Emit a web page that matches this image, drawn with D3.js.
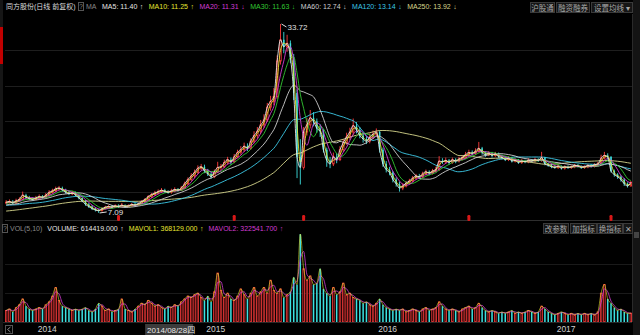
<!DOCTYPE html>
<html><head><meta charset="utf-8">
<script src="https://cdn.jsdelivr.net/npm/d3@7/dist/d3.min.js"></script>
<style>html,body{margin:0;padding:0;background:#000;overflow:hidden}svg{display:block}</style>
</head><body><svg id="c" width="640" height="335"></svg>
<script>
// ---- data (weekly candles) ----
const opens=[8.5,8.6,8.7,8.5,8.8,9.0,9.6,9.3,9.1,9.0,9.2,9.4,9.3,9.6,10.0,10.2,10.5,10.6,10.3,10.0,
9.8,9.9,9.6,9.2,8.8,8.3,8.0,7.7,7.5,7.4,7.7,7.9,8.0,7.9,8.1,8.0,8.2,8.0,8.1,8.3,
8.2,8.4,8.7,9.0,9.4,9.7,9.9,10.1,10.3,10.1,10.0,10.2,10.4,10.3,10.6,11.2,11.8,12.3,12.8,13.4,
13.6,13.0,12.6,12.2,12.9,13.5,13.6,14.2,14.6,14.3,15.0,15.6,16.0,16.5,16.2,17.2,18.0,18.6,19.5,20.2,
22.0,22.8,23.5,28.5,31.5,30.5,31.0,29.0,24.0,15.0,13.5,18.5,19.5,20.5,20.0,19.0,18.6,16.0,14.5,14.0,
15.0,14.6,16.0,17.0,17.8,18.5,19.4,18.8,18.0,17.5,17.2,17.8,18.2,18.5,16.0,14.0,13.2,12.8,11.8,11.2,
10.6,10.9,11.3,11.6,12.0,12.3,12.2,12.6,12.9,12.7,13.0,13.2,14.4,14.3,14.5,14.2,14.6,14.4,14.7,14.9,
15.3,15.6,15.5,15.8,16.2,15.6,15.3,15.5,15.2,15.4,15.0,14.9,14.6,14.8,14.4,14.5,14.2,14.4,14.3,14.5,
14.4,14.6,14.5,14.9,14.0,13.8,13.6,13.5,13.7,13.4,13.6,13.5,13.6,13.8,13.7,13.5,13.6,13.8,13.7,13.9,
14.0,14.8,15.2,15.0,13.0,12.5,12.2,11.8,11.2,10.9];
const highs=[8.9,9.0,8.9,9.1,9.3,10.1,9.8,9.5,9.3,9.5,9.7,9.6,9.9,10.3,10.5,10.8,10.9,10.8,10.5,10.2,
10.2,10.1,9.7,9.3,8.9,8.5,8.2,7.9,7.7,7.9,8.1,8.2,8.2,8.3,8.3,8.5,8.3,8.3,8.5,8.5,
8.6,8.9,9.2,9.6,9.9,10.2,10.4,10.6,10.5,10.3,10.5,10.7,10.6,10.9,11.5,12.1,12.7,13.2,13.8,14.0,
13.9,13.3,12.9,13.2,14.3,14.0,14.6,15.0,14.9,15.4,16.0,16.5,17.0,16.9,17.6,18.6,19.2,20.2,21.0,22.6,
23.6,24.7,29.3,33.72,32.6,32.2,31.4,29.5,24.5,17.5,19.2,20.5,21.6,21.3,20.4,19.6,18.9,16.3,15.0,15.6,
15.5,16.5,17.5,18.4,19.1,20.4,19.9,19.2,18.4,17.9,18.3,18.7,19.0,18.7,16.3,14.4,13.6,13.0,12.1,11.5,
11.3,11.6,11.9,12.3,12.6,12.6,12.9,13.2,13.1,13.3,13.6,15.1,14.8,14.9,14.7,14.9,14.8,15.0,15.2,15.7,
16.0,15.9,16.2,17.1,16.4,15.8,15.8,15.7,15.7,15.6,15.3,15.1,15.1,15.0,14.8,14.7,14.7,14.6,14.8,14.7,
14.9,14.8,15.7,15.0,14.2,14.0,13.8,13.9,13.8,13.8,13.8,13.8,14.0,14.0,13.8,13.8,14.0,14.0,14.1,14.3,
15.3,15.7,15.5,15.1,13.2,12.7,12.4,12.0,11.4,11.6];
const lows=[8.3,8.4,8.3,8.4,8.7,8.9,9.1,8.9,8.8,8.9,9.1,9.1,9.2,9.5,9.8,10.0,10.3,10.1,9.8,9.6,
9.6,9.4,9.0,8.6,8.1,7.8,7.5,7.3,7.09,7.3,7.6,7.7,7.7,7.8,7.8,7.9,7.8,7.9,8.0,8.0,
8.1,8.3,8.6,8.9,9.2,9.5,9.7,9.9,9.9,9.8,9.8,10.0,10.1,10.2,10.5,11.0,11.6,12.0,12.6,13.1,
12.7,12.3,11.9,12.0,12.7,13.1,13.4,13.9,13.9,14.1,14.8,15.3,15.7,15.8,16.0,16.9,17.6,18.2,19.1,19.9,
21.5,22.3,23.2,28.0,29.6,29.8,28.2,23.0,12.0,11.1,13.2,18.0,19.0,19.3,18.4,17.8,15.6,13.6,13.4,13.7,
14.1,14.4,15.7,16.7,17.4,18.1,18.3,17.6,17.0,16.8,16.9,17.5,17.9,15.6,13.6,12.8,12.4,11.4,10.8,10.1,
10.3,10.7,11.1,11.4,11.8,11.9,12.0,12.4,12.4,12.5,12.8,13.0,14.0,14.0,13.9,14.0,14.1,14.2,14.5,14.7,
15.1,15.2,15.3,15.6,15.3,15.0,15.1,14.9,15.0,14.8,14.6,14.4,14.4,14.2,14.2,14.0,14.0,14.1,14.1,14.2,
14.2,14.3,14.3,13.8,13.6,13.4,13.3,13.3,13.2,13.2,13.3,13.3,13.4,13.5,13.3,13.3,13.4,13.5,13.5,13.7,
13.9,14.6,14.6,12.8,12.2,11.9,11.5,10.9,10.67,10.8];
const closes=[8.6,8.7,8.5,8.8,9.0,9.6,9.3,9.1,9.0,9.2,9.4,9.3,9.6,10.0,10.2,10.5,10.6,10.3,10.0,9.8,
9.9,9.6,9.2,8.8,8.3,8.0,7.7,7.5,7.4,7.7,7.9,8.0,7.9,8.1,8.0,8.2,8.0,8.1,8.3,8.2,
8.4,8.7,9.0,9.4,9.7,9.9,10.1,10.3,10.1,10.0,10.2,10.4,10.3,10.6,11.2,11.8,12.3,12.8,13.4,13.6,
13.0,12.6,12.2,12.9,13.5,13.6,14.2,14.6,14.3,15.0,15.6,16.0,16.5,16.2,17.2,18.0,18.6,19.5,20.2,22.0,
22.8,23.5,28.5,31.5,30.5,31.0,29.0,24.0,15.0,13.5,18.5,19.5,20.5,20.0,19.0,18.6,16.0,14.5,14.0,15.0,
14.6,16.0,17.0,17.8,18.5,19.4,18.8,18.0,17.5,17.2,17.8,18.2,18.5,16.0,14.0,13.2,12.8,11.8,11.2,10.6,
10.9,11.3,11.6,12.0,12.3,12.2,12.6,12.9,12.7,13.0,13.2,14.4,14.3,14.5,14.2,14.6,14.4,14.7,14.9,15.3,
15.6,15.5,15.8,16.2,15.6,15.3,15.5,15.2,15.4,15.0,14.9,14.6,14.8,14.4,14.5,14.2,14.4,14.3,14.5,14.4,
14.6,14.5,14.9,14.0,13.8,13.6,13.5,13.7,13.4,13.6,13.5,13.6,13.8,13.7,13.5,13.6,13.8,13.7,13.9,14.0,
14.8,15.2,15.0,13.0,12.5,12.2,11.8,11.2,10.9,11.4];
// volume, millions of shares
const volumes=[0.8,0.9,0.7,1.0,1.2,1.6,1.1,0.9,0.8,0.9,1.0,0.9,1.2,1.4,1.8,2.4,1.5,1.1,1.0,0.9,
0.8,0.9,0.8,0.9,1.0,0.8,0.7,0.9,1.3,1.1,0.8,0.9,0.7,0.8,0.9,1.6,0.9,0.8,0.7,0.9,
1.1,1.3,1.2,1.5,1.3,1.1,1.2,1.0,0.9,1.1,1.0,1.2,1.1,1.4,1.6,1.8,1.7,1.9,2.0,1.7,
1.5,1.8,1.4,2.1,3.4,2.2,1.7,2.0,1.6,1.5,1.8,2.3,1.9,1.6,2.0,2.4,1.8,2.1,2.4,2.0,
2.9,2.2,2.0,2.3,1.7,1.9,2.1,3.1,2.6,6.1,3.7,2.9,3.2,2.6,2.7,3.7,2.3,2.0,1.8,2.4,
1.9,2.1,2.7,1.9,2.0,1.7,1.6,1.5,1.3,1.4,1.2,1.1,1.3,1.6,1.2,1.0,0.9,0.8,0.9,0.8,
0.9,0.7,0.8,0.9,0.8,0.7,0.9,1.0,0.8,0.9,1.0,1.4,1.1,0.9,0.8,0.9,0.8,0.7,0.9,1.0,
1.1,0.9,1.0,1.3,1.0,0.8,0.7,0.8,0.7,0.6,0.7,0.6,0.7,0.8,0.6,0.7,0.6,0.7,0.8,0.7,
0.6,0.7,1.1,0.9,0.7,0.6,0.5,0.6,0.7,0.6,0.5,0.6,0.5,0.6,0.5,0.6,0.5,0.6,0.5,0.7,
2.0,2.6,1.6,1.3,1.0,0.8,0.9,0.7,0.6,0.614];
// closes before the visible window (used only to warm up the long moving averages)
const histCloses=[6.2,6.3,6.1,6.0,6.2,6.4,6.3,6.1,6.0,5.9,6.1,6.3,6.5,6.4,6.2,6.3,6.6,6.8,6.7,6.9,
7.1,7.0,7.3,7.5,7.4,7.6,7.8,8.0,7.9,8.2,8.4,8.1,7.9,8.0,8.3,8.5,8.2,8.0,7.8,7.9,
8.1,8.3,8.0,7.8,7.9,8.2,8.4,8.3,8.5,8.6];
const yearLabels=["2014","2015","2016","2017"];
const yearStartIdx=[9,60,112,166];
const gridPrices=[10,15,20,25,30];
const markerIdx=[34,69,90,140,183];
const cursorIdx=43, cursorLabel="2014/08/28四";
const maNames=["MA5","MA10","MA20","MA30","MA60","MA120","MA250"];
const maWeeks=[1,2,4,6,12,24,50];
const maShown=["11.40","11.25","11.31","11.63","12.74","13.14","13.92"];
const maArrows=["↑","↑","↓","↓","↓","↓","↓"];
const volWeeks=[1,2];
const volTexts=["VOLUME: 614419.000","MAVOL1: 368129.000","MAVOL2: 322541.700"];

// ---- styles ----
const maColors=["#e6e6e6","#e6e632","#d23cd2","#32c832","#cfcfcf","#3cc8e6","#d6d68c"];
const UP="#ff3c3c", DN="#3ce0e0";
const FONT="'Liberation Sans','Noto Sans CJK SC',sans-serif";

const svg=d3.select("#c");
svg.append("rect").attr("width",640).attr("height",335).attr("fill","#000");
const n=closes.length;
const x=d3.scaleBand().domain(d3.range(n)).range([5,632]).paddingInner(0.3);
const bw=x.bandwidth();
const cx=i=>x(i)+bw/2;
const y=d3.scaleLinear().domain([6.38,35.13]).range([218,14]);
const yv=d3.scaleLinear().domain([0,6.25]).range([322,232]);

// grid
svg.append("g").selectAll("line").data(gridPrices).join("line")
  .attr("x1",5).attr("x2",632).attr("y1",d=>Math.round(y(d))+0.5).attr("y2",d=>Math.round(y(d))+0.5)
  .attr("stroke","#1e1e1e");
svg.append("g").selectAll("line").data([2,4]).join("line")
  .attr("x1",5).attr("x2",632).attr("y1",d=>Math.round(yv(d))+0.5).attr("y2",d=>Math.round(yv(d))+0.5)
  .attr("stroke","#1a1a1a");

// candles (up = hollow red, down = solid cyan)
const idx=d3.range(n);
const isUp=i=>closes[i]>=opens[i];
const cg=svg.append("g");
cg.selectAll("line").data(idx).join("line")
  .attr("x1",i=>cx(i)).attr("x2",i=>cx(i))
  .attr("y1",i=>y(highs[i])).attr("y2",i=>y(lows[i]))
  .attr("stroke",i=>isUp(i)?UP:DN).attr("stroke-width",0.9);
cg.selectAll("rect").data(idx).join("rect")
  .attr("x",i=>x(i)+0.4).attr("width",bw-0.8)
  .attr("y",i=>y(Math.max(opens[i],closes[i])))
  .attr("height",i=>Math.max(0.8,Math.abs(y(opens[i])-y(closes[i]))))
  .attr("fill",i=>isUp(i)?"#000":DN)
  .attr("stroke",i=>isUp(i)?UP:"none").attr("stroke-width",0.8);

// moving averages
const full=histCloses.concat(closes), h=histCloses.length;
function ma(w){return idx.map(i=>d3.mean(full.slice(h+i-w+1,h+i+1)));}
const lineGen=d3.line().x((d,i)=>cx(i)).y(d=>y(d)).curve(d3.curveMonotoneX);
const mg=svg.append("g").attr("fill","none");
for(let j=maWeeks.length-1;j>=0;j--){
  mg.append("path").attr("d",lineGen(ma(maWeeks[j]))).attr("stroke",maColors[j]).attr("stroke-width",0.9);
}

// high / low labels
const iMax=d3.maxIndex(highs), iMin=d3.minIndex(lows);
const lg=svg.append("g").attr("font-family",FONT).attr("font-size",8).attr("fill","#e0e0e0");
lg.append("line").attr("x1",cx(iMax)+1).attr("y1",y(highs[iMax])).attr("x2",cx(iMax)+6).attr("y2",y(highs[iMax])+3).attr("stroke","#e0e0e0");
lg.append("text").attr("x",cx(iMax)+7).attr("y",y(highs[iMax])+6).text(highs[iMax].toFixed(2));
lg.append("line").attr("x1",cx(iMin)+1).attr("y1",y(lows[iMin])).attr("x2",cx(iMin)+8).attr("y2",y(lows[iMin])-1).attr("stroke","#e0e0e0");
lg.append("text").attr("x",cx(iMin)+9).attr("y",y(lows[iMin])+2).text(lows[iMin].toFixed(2));

// separator + markers
svg.append("line").attr("x1",5).attr("x2",632).attr("y1",220.5).attr("y2",220.5).attr("stroke","#2e2e2e");
svg.append("g").selectAll("rect").data(markerIdx).join("rect")
  .attr("x",i=>cx(i)-1.5).attr("y",215).attr("width",3).attr("height",6).attr("rx",1.2).attr("fill","#d81818");

// volume bars
const vg=svg.append("g");
vg.selectAll("rect").data(idx).join("rect")
  .attr("x",i=>x(i)+0.4).attr("width",bw-0.8)
  .attr("y",i=>yv(volumes[i])).attr("height",i=>322-yv(volumes[i]))
  .attr("fill",i=>isUp(i)?"#000":DN)
  .attr("stroke",i=>isUp(i)?UP:"none").attr("stroke-width",0.8);
function vma(w){return idx.map(i=>d3.mean(volumes.slice(Math.max(0,i-w+1),i+1)));}
const vline=d3.line().x((d,i)=>cx(i)).y(d=>yv(d)).curve(d3.curveMonotoneX);
svg.append("path").attr("d",vline(vma(volWeeks[1]))).attr("fill","none").attr("stroke","#d23cd2").attr("stroke-width",0.8);
svg.append("path").attr("d",vline(vma(volWeeks[0]))).attr("fill","none").attr("stroke","#e6e632").attr("stroke-width",0.8).attr("opacity",0.75);

// frame edges
svg.append("rect").attr("x",0).attr("y",0).attr("width",3).attr("height",335).attr("fill","#161616");
svg.append("rect").attr("x",0).attr("y",27).attr("width",3).attr("height",37).attr("fill","#c00000");
svg.append("rect").attr("x",633).attr("y",0).attr("width",7).attr("height",335).attr("fill","#141414");
svg.append("line").attr("x1",632.5).attr("x2",632.5).attr("y1",14).attr("y2",335).attr("stroke","#2a2a2a");
svg.append("rect").attr("x",634).attr("y",232).attr("width",5).attr("height",6).attr("fill","#444");

// bottom axis
svg.append("rect").attr("x",3).attr("y",322).attr("width",630).attr("height",13).attr("fill","#000");
svg.append("line").attr("x1",3).attr("x2",632).attr("y1",322.5).attr("y2",322.5).attr("stroke","#2a2a2a");
const ag=svg.append("g").attr("font-family",FONT).attr("font-size",8.5).attr("fill","#d0d0d0");
ag.selectAll("text").data(yearLabels).join("text")
  .attr("x",(d,k)=>x(yearStartIdx[k])+3).attr("y",332).text(d=>d);
ag.append("rect").attr("x",x(cursorIdx)-2).attr("y",324).attr("width",48).attr("height",11).attr("fill","#3c3c3c");
ag.append("text").attr("x",x(cursorIdx)).attr("y",332.5).attr("font-size",8).attr("fill","#e8e8e8").text(cursorLabel);
ag.append("rect").attr("x",5.5).attr("y",325.5).attr("width",7).attr("height",8).attr("fill","none").attr("stroke","#555");
ag.append("path").attr("d","M10.5,327 L7.5,329.5 L10.5,332").attr("fill","none").attr("stroke","#888");

// sequential text layout helper
function flow(g,x0,yb,items){
  let cxp=x0;
  items.forEach(it=>{
    const t=g.append("text").attr("x",cxp).attr("y",yb).attr("fill",it.c).text(it.t);
    if(it.s) t.attr("font-size",it.s);
    cxp+=t.node().getComputedTextLength()+it.g;
  });
  return cxp;
}

// header
const hg=svg.append("g").attr("font-family",FONT).attr("font-size",7);
const titleEnd=flow(hg,6,9,[{t:"同方股份(日线 前复权)",c:"#dcdcdc",g:2}]);
hg.append("rect").attr("x",Math.round(titleEnd)+0.5).attr("y",2.5).attr("width",5).attr("height",8).attr("fill","none").attr("stroke","#555");
hg.append("text").attr("x",Math.round(titleEnd)+1.3).attr("y",9).attr("fill","#888").attr("font-size",6.5).text("?");
hg.append("text").attr("x",Math.round(titleEnd)+8).attr("y",9).attr("fill","#888").text("MA");
const hItems=[];
maNames.forEach((nm,k)=>{
  hItems.push({t:nm+": "+maShown[k],c:maColors[k],g:2.5});
  hItems.push({t:maArrows[k],c:maColors[k],g:5.5});
});
flow(hg,Math.max(102,Math.round(titleEnd)+22),9,hItems);
const btns=[["沪股通",530,24],["融资融券",556,33],["设置均线 ▾",591,41]];
btns.forEach(b=>{
  hg.append("rect").attr("x",b[1]+0.5).attr("y",2.5).attr("width",b[2]).attr("height",10).attr("fill","#161616").attr("stroke","#3a3a3a");
  hg.append("text").attr("x",b[1]+b[2]/2+0.5).attr("y",10.5).attr("text-anchor","middle").attr("fill","#a8a8a8").attr("font-size",7.5).text(b[0]);
});

// volume header
const vh=svg.append("g").attr("font-family",FONT).attr("font-size",7);
vh.append("rect").attr("x",2.5).attr("y",224.5).attr("width",5).attr("height",8).attr("fill","none").attr("stroke","#555");
vh.append("text").attr("x",3.3).attr("y",231).attr("fill","#888").attr("font-size",6.5).text("?");
const vcol=["#e6e6e6","#e6e632","#d23cd2"];
const vItems=[{t:"VOL(5,10)",c:"#8a8a8a",g:5}];
volTexts.forEach((t,k)=>{ vItems.push({t:t,c:vcol[k],g:2.5}); vItems.push({t:"↑",c:vcol[k],g:5}); });
flow(vh,10,231,vItems);
[["改参数",543,25],["加指标",570,26],["换指标",597,25]].forEach(b=>{
  vh.append("rect").attr("x",b[1]+0.5).attr("y",223.5).attr("width",b[2]).attr("height",10).attr("fill","#161616").attr("stroke","#3a3a3a");
  vh.append("text").attr("x",b[1]+b[2]/2+0.5).attr("y",231.5).attr("text-anchor","middle").attr("fill","#a8a8a8").attr("font-size",7.5).text(b[0]);
});
vh.append("rect").attr("x",623.5).attr("y",223.5).attr("width",9).attr("height",10).attr("fill","#161616").attr("stroke","#3a3a3a");
vh.append("text").attr("x",628).attr("y",231.5).attr("text-anchor","middle").attr("fill","#a8a8a8").attr("font-size",8).text("✕");
</script></body></html>
